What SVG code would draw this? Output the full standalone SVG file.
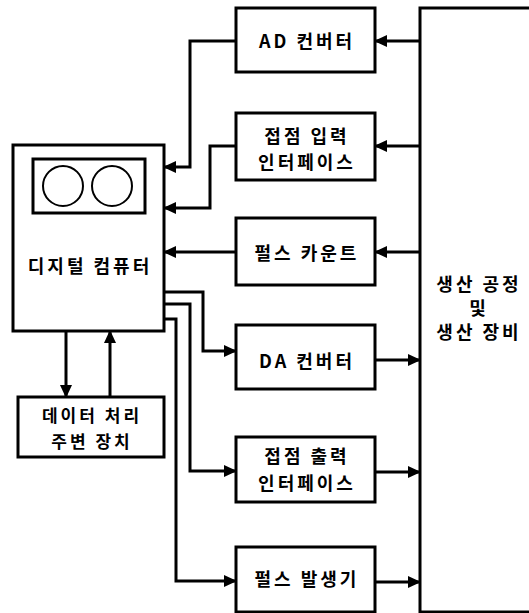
<svg xmlns="http://www.w3.org/2000/svg" width="529" height="613" viewBox="0 0 529 613">
<style>
.box{fill:#fff;stroke:#000;stroke-width:3}
.ln{fill:none;stroke:#000;stroke-width:3;marker-end:url(#ah)}
text{font-family:"Noto Sans CJK KR","Noto Sans",sans-serif;font-weight:700;font-size:18px;fill:#000;text-anchor:middle;dominant-baseline:central;letter-spacing:3px}
.sm{font-size:17px}
</style>
<defs>
<marker id="ah" markerUnits="userSpaceOnUse" markerWidth="13" markerHeight="12" refX="12" refY="6" orient="auto">
<path d="M0,0 L13,6 L0,12 z" fill="#000"/>
</marker>
</defs>
<rect width="529" height="613" fill="#fff"/>
<g id="plant">
<rect class="box" x="420" y="8" width="130" height="604"/>
<text x="479" y="283">생산 공정</text>
<text x="479" y="307">및</text>
<text x="479" y="331">생산 장비</text>
</g>
<g id="computer">
<rect class="box" x="13" y="145" width="151" height="186"/>
<rect class="box" x="33" y="159" width="112" height="54"/>
<circle cx="63" cy="186" r="20" fill="none" stroke="#000" stroke-width="2"/>
<circle cx="112" cy="186" r="20" fill="none" stroke="#000" stroke-width="2"/>
<text x="90" y="265">디지털 컴퓨터</text>
</g>
<g id="peripheral">
<rect class="box" x="18" y="397" width="146" height="60"/>
<text class="sm" x="92" y="414">데이터 처리</text>
<text class="sm" x="92" y="440">주변 장치</text>
</g>
<g id="ad">
<rect class="box" x="236" y="8" width="139" height="64"/>
<text x="307" y="40">AD 컨버터</text>
</g>
<g id="din">
<rect class="box" x="236" y="113" width="139" height="67"/>
<text x="307" y="135">접점 입력</text>
<text x="307" y="161">인터페이스</text>
</g>
<g id="pcount">
<rect class="box" x="236" y="218" width="139" height="67"/>
<text x="307" y="252">펄스 카운트</text>
</g>
<g id="da">
<rect class="box" x="236" y="325" width="139" height="64"/>
<text x="307" y="360">DA 컨버터</text>
</g>
<g id="dout">
<rect class="box" x="236" y="437" width="139" height="65"/>
<text x="307" y="455">접점 출력</text>
<text x="307" y="482">인터페이스</text>
</g>
<g id="pgen">
<rect class="box" x="236" y="547" width="139" height="65"/>
<text x="307" y="578">펄스 발생기</text>
</g>
<g id="connectors">
<path class="ln" d="M236,41 H190 V167 H164"/>
<path class="ln" d="M236,146 H210 V208 H164"/>
<path class="ln" d="M236,252 H164"/>
<path class="ln" d="M164,292 H203 V351 H236"/>
<path class="ln" d="M164,304 H190 V471 H236"/>
<path class="ln" d="M164,319 H176 V581 H236"/>
<path class="ln" d="M420,41 H375"/>
<path class="ln" d="M420,146 H375"/>
<path class="ln" d="M420,252 H375"/>
<path class="ln" d="M375,360 H420"/>
<path class="ln" d="M375,472 H420"/>
<path class="ln" d="M375,582 H420"/>
<path class="ln" d="M66,331 V397"/>
<path class="ln" d="M110,397 V331"/>
</g>
</svg>
